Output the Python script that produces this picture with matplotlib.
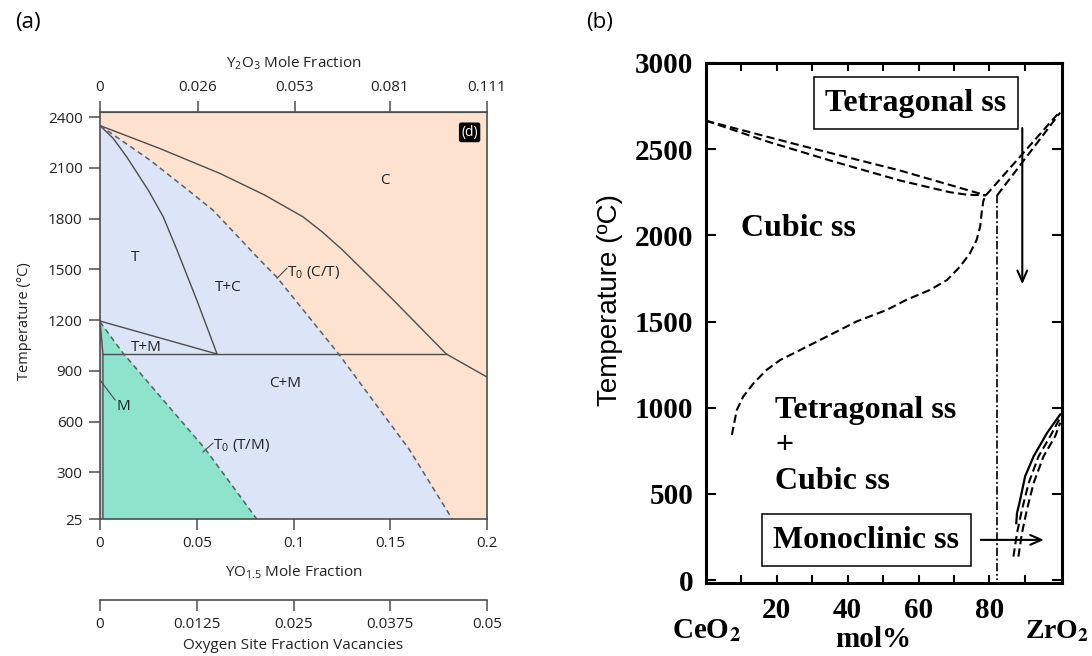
import numpy as np
import matplotlib
matplotlib.use("Agg")
import matplotlib.pyplot as plt
from matplotlib.patches import Polygon

plt.rcParams["mathtext.fontset"] = "custom"
plt.rcParams["mathtext.rm"] = "Open Sans"
plt.rcParams["mathtext.it"] = "Open Sans:italic"
plt.rcParams["mathtext.bf"] = "Open Sans:bold"

# ---- (a) ZrO2-YO1.5, x = YO1.5 mole fraction, T in degC ----
tc_x = [0, 0.0069, 0.0138, 0.025, 0.0327, 0.0398, 0.05, 0.0605]      # T / T+C
tc_T = [2350, 2273, 2165, 1967, 1810, 1614, 1319, 1000]
ct_x = [0, 0.031, 0.062, 0.085, 0.105, 0.115, 0.1254, 0.1516, 0.178, 0.179, 0.2]  # C / T+C
ct_T = [2350, 2214, 2067, 1940, 1810, 1720, 1614, 1319, 1011, 1000, 864]
t0ct_x = [0, 0.0258, 0.0448, 0.0584, 0.0827, 0.0913, 0.123, 0.160, 0.182]  # T0 (C/T)
t0ct_T = [2350, 2146, 1975, 1850, 1555, 1455, 1005, 433, 25]
t0tm_x = [0, 0.0119, 0.0543, 0.081]                                  # T0 (T/M)
t0tm_T = [1190, 1005, 440, 25]
tm_x = [0, 0.0605]                                                   # T / T+M
tm_T = [1195, 1000]
m_x = [0, 0.0015, 0.0015]                                            # M / T+M
m_T = [1195, 1000, 25]
eut_x = [0.0015, 0.179]
eut_T = [1000, 1000]

yo_ticks = [0, 0.05, 0.1, 0.15, 0.2]
yo_labels = ["0", "0.05", "0.1", "0.15", "0.2"]
y2o3_ticks = [0, 0.026, 0.053, 0.081, 0.111]
y2o3_labels = ["0", "0.026", "0.053", "0.081", "0.111"]
vac_ticks = [0, 0.0125, 0.025, 0.0375, 0.05]
vac_labels = ["0", "0.0125", "0.025", "0.0375", "0.05"]
temp_ticks_a = [25, 300, 600, 900, 1200, 1500, 1800, 2100, 2400]

# ---- (b) CeO2-ZrO2, x = mol% ZrO2 ----
liq_up_x = [0, 26.6, 54.8, 79]
liq_up_T = [2665, 2522, 2376, 2232]
liq_lo_x = [0, 17.2, 35.9, 54.8, 68.9, 73.6, 79]
liq_lo_T = [2665, 2545, 2429, 2318, 2250, 2236, 2232]
rise1_x = [79, 100]
rise1_T = [2232, 2720]
rise2_x = [82.2, 100]
rise2_T = [2232, 2712]
cub_x = [7.3, 8.7, 10.5, 13.4, 17.1, 20.9, 30.3, 42.5, 51.0, 56.5, 63.2, 68.0,
         71.7, 74.5, 76.4, 77.4, 77.8, 78.3, 79]
cub_T = [841, 987, 1064, 1141, 1219, 1276, 1373, 1500, 1567, 1625, 1683, 1740,
         1818, 1895, 1973, 2050, 2127, 2200, 2232]
vert_x = [82.2, 82.2]
vert_T = [2232, 0]
mono_x = [87.6, 87.8, 88.7, 90.1, 92.5, 96.3, 100]
mono_T = [330, 388, 466, 602, 718, 854, 961]
mono_d1_x = [86.8, 87.8, 89.2, 91.1, 93.9, 97.2, 100]
mono_d1_T = [136, 272, 408, 563, 718, 835, 942]
mono_d2_x = [88.2, 89.2, 90.6, 92.5, 95.3, 98.6, 100]
mono_d2_T = [136, 272, 408, 563, 718, 835, 913]

temp_ticks_b = [0, 500, 1000, 1500, 2000, 2500, 3000]
mol_ticks = [10, 20, 30, 40, 50, 60, 70, 80, 90]
mol_labels = ["", "20", "", "40", "", "60", "", "80", ""]

ORANGE = "#fde3cf"
BLUE = "#dce4f7"
GREEN = "#8de3cc"
LINE = "#4d4d4d"
DASH = "#5e5e5e"

fig = plt.figure(figsize=(10.92, 6.56), dpi=100)

# ================= panel (a) =================
sans = "Open Sans"
ax = fig.add_axes([0.0916, 0.2088, 0.3544, 0.6204])
ax.set_facecolor(ORANGE)
ax.set_xlim(0, 0.2)
ax.set_ylim(25, 2430)

ax.add_patch(Polygon(list(zip(t0ct_x + [0], t0ct_T + [25])), closed=True,
                     facecolor=BLUE, edgecolor="none", zorder=0.5))
ax.add_patch(Polygon(list(zip(t0tm_x + [0], t0tm_T + [25])), closed=True,
                     facecolor=GREEN, edgecolor="none", zorder=0.6))

for xs, ts in [(tc_x, tc_T), (ct_x, ct_T), (tm_x, tm_T), (m_x, m_T), (eut_x, eut_T)]:
    ax.plot(xs, ts, color=LINE, lw=1.0, zorder=2)
for xs, ts in [(t0ct_x, t0ct_T), (t0tm_x, t0tm_T)]:
    ax.plot(xs, ts, color=DASH, lw=1.1, dashes=(3.5, 2.5), zorder=2)

# leader strokes for the T0 and M labels
ax.plot([0.0915, 0.0966], [1448, 1507], color=LINE, lw=0.8)
ax.plot([0.0532, 0.0584], [421, 474], color=LINE, lw=0.8)
ax.plot([0.0, 0.0078], [846, 728], color=LINE, lw=0.8)

lab = dict(family=sans, fontsize=11, color="#222222")
ax.text(0.147, 2027, "C", ha="center", va="center", **lab)
ax.text(0.018, 1573, "T", ha="center", va="center", **lab)
ax.text(0.066, 1395, "T+C", ha="center", va="center", **lab)
ax.text(0.024, 1041, "T+M", ha="center", va="center", **lab)
ax.text(0.0956, 828, "C+M", ha="center", va="center", **lab)
ax.text(0.0119, 689, "M", ha="center", va="center", **lab)
ax.text(0.0968, 1484, r"T$_\mathrm{0}$ (C/T)", ha="left", va="center", **lab)
ax.text(0.0586, 462, r"T$_\mathrm{0}$ (T/M)", ha="left", va="center", **lab)
ax.text(0.191, 2310, "(d)", ha="center", va="center", family=sans, fontsize=10,
        color="white", bbox=dict(boxstyle="round,pad=0.12", fc="black", ec="black"))

for s in ax.spines.values():
    s.set_color(LINE)
    s.set_linewidth(1.2)
ax.set_xticks(yo_ticks, yo_labels)
ax.set_yticks(temp_ticks_a)
ax.tick_params(direction="out", length=8, width=1.1, color=LINE, pad=4.5,
               labelsize=11, labelcolor="#222222")
for t in ax.get_xticklabels() + ax.get_yticklabels():
    t.set_family(sans)

ax.set_ylabel("Temperature (°C)", family=sans, fontsize=10.5, color="#222222")
ax.yaxis.set_label_coords(-0.195, 0.486)
ax.yaxis.label.set_va("center")
ax.text(0.5, -0.130, r"YO$_\mathrm{1.5}$ Mole Fraction", transform=ax.transAxes,
        ha="center", va="center", **lab)


def yo_to_y2o3(x):
    return x / (2 - x)


def y2o3_to_yo(y):
    return 2 * y / (1 + y)


top = ax.secondary_xaxis("top", functions=(yo_to_y2o3, y2o3_to_yo))
top.set_xticks(y2o3_ticks, y2o3_labels)
top.tick_params(direction="out", length=8, width=1.1, color=LINE, pad=4,
                labelsize=11, labelcolor="#222222")
top.spines["top"].set_color(LINE)
for t in top.get_xticklabels():
    t.set_family(sans)
ax.text(0.5, 1.120, r"Y$_\mathrm{2}$O$_\mathrm{3}$ Mole Fraction",
        transform=ax.transAxes, ha="center", va="center", **lab)

vac = ax.secondary_xaxis(-0.199, functions=(lambda x: x / 4, lambda v: v * 4))
vac.set_xticks(vac_ticks, vac_labels)
vac.tick_params(direction="out", length=8, width=1.1, color=LINE, pad=4,
                labelsize=11, labelcolor="#222222")
vac.spines["bottom"].set_color(LINE)
vac.spines["bottom"].set_linewidth(1.2)
for t in vac.get_xticklabels():
    t.set_family(sans)
ax.text(0.5, -0.310, "Oxygen Site Fraction Vacancies", transform=ax.transAxes,
        ha="center", va="center", **lab)

fig.text(0.026, 0.966, "(a)", family=sans, fontsize=16, ha="center", va="center")

# ================= panel (b) =================
serif = dict(family="Liberation Serif", weight="bold")
bx = fig.add_axes([0.6465, 0.1113, 0.326, 0.7927])
bx.set_xlim(0, 100.5)
bx.set_ylim(-17, 3000)

dash_kw = dict(color="black", lw=1.5, dashes=(4, 2))
for xs, ts in [(liq_up_x, liq_up_T), (liq_lo_x, liq_lo_T), (rise1_x, rise1_T),
               (rise2_x, rise2_T), (cub_x, cub_T), (mono_d1_x, mono_d1_T),
               (mono_d2_x, mono_d2_T)]:
    bx.plot(xs, ts, **dash_kw)
bx.plot(vert_x, vert_T, color="black", lw=1.2, dashes=(5, 1.5, 1.2, 1.5))
bx.plot(mono_x, mono_T, color="black", lw=1.6)

box_kw = dict(boxstyle="square,pad=0.36", fc="white", ec="black", lw=1.1)
bx.text(59.3, 2767, "Tetragonal ss", ha="center", va="center", fontsize=23,
        bbox=box_kw, zorder=5, **serif)
bx.text(45.3, 230, "Monoclinic ss", ha="center", va="center", fontsize=23,
        bbox=box_kw, zorder=5, **serif)
arrow = dict(arrowstyle="->,head_length=0.8,head_width=0.35", lw=1.5, color="black")
bx.annotate("", xy=(89.3, 1700), xytext=(89.3, 2638), arrowprops=arrow)
bx.annotate("", xy=(96.2, 233), xytext=(76.8, 233), arrowprops=arrow)

bx.text(26, 2042, "Cubic ss", ha="center", va="center", fontsize=23, **serif)
bx.text(19.5, 986, "Tetragonal ss", ha="left", va="center", fontsize=23, **serif)
bx.text(19.5, 783, "+", ha="left", va="center", fontsize=23, **serif)
bx.text(19.5, 569, "Cubic ss", ha="left", va="center", fontsize=23, **serif)

for s in bx.spines.values():
    s.set_linewidth(2.2)
bx.set_yticks(temp_ticks_b)
bx.set_xticks(mol_ticks, mol_labels)
bx.tick_params(axis="y", direction="in", length=7, width=1.5, left=True, right=True,
               pad=9, labelsize=21)
bx.tick_params(axis="x", direction="in", length=6, width=1.5, top=True, bottom=True,
               pad=10, labelsize=21)
for t in bx.get_xticklabels() + bx.get_yticklabels():
    t.set_family("Liberation Serif")
    t.set_weight("bold")

bx.set_ylabel("Temperature (ºC)", family="Liberation Sans", fontsize=20)
bx.yaxis.set_label_coords(-0.27, 0.544)
bx.yaxis.label.set_va("center")

bx.text(0.0, -0.092, r"CeO$_\mathbf{2}$", transform=bx.transAxes, ha="center",
        va="center", fontsize=21, math_fontfamily="stix", **serif)
bx.text(0.47, -0.109, "mol%", transform=bx.transAxes, ha="center",
        va="center", fontsize=21, **serif)
bx.text(0.985, -0.094, r"ZrO$_\mathbf{2}$", transform=bx.transAxes, ha="center",
        va="center", fontsize=20, math_fontfamily="stix", **serif)

fig.text(0.549, 0.966, "(b)", family=sans, fontsize=16, ha="center", va="center")

fig.savefig("out.png", dpi=100, facecolor="white")
